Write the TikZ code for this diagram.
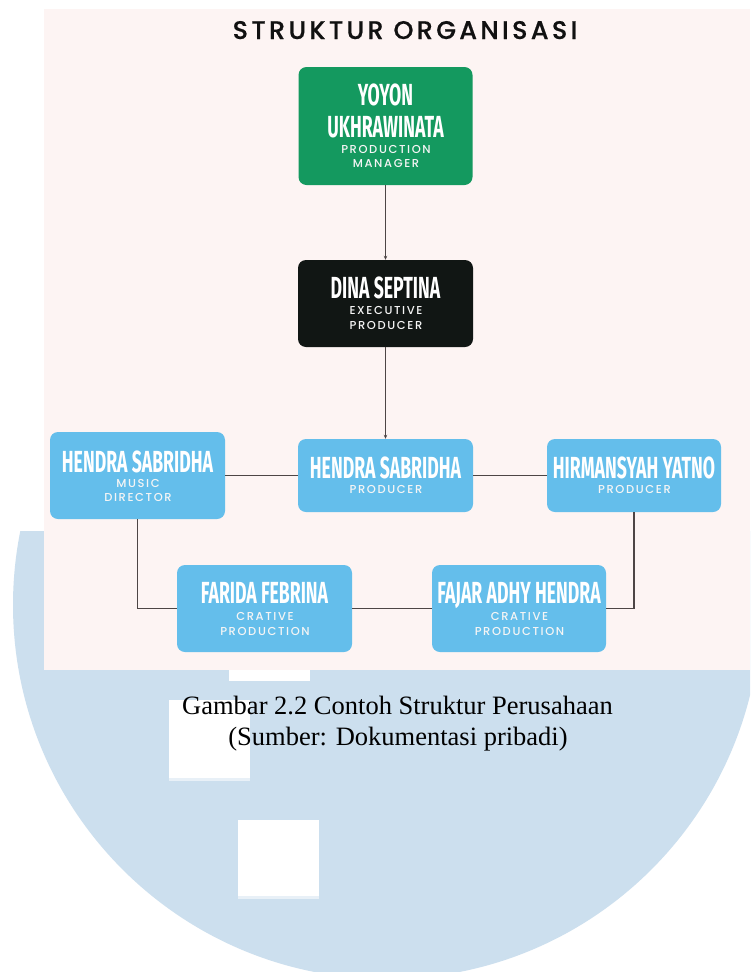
\documentclass[tikz,border=0pt]{standalone}
\usepackage{fontspec}
\setmainfont{Liberation Serif}
\newfontfamily\titlefont[LetterSpace=13,FakeBold=0.5]{Poppins Medium}
\newfontfamily\subfont[LetterSpace=14]{Poppins Medium}
\newfontfamily\namefont[FakeStretch=0.58]{Fira Sans}
\usetikzlibrary{arrows.meta}
\definecolor{wmblue}{HTML}{CCDFEE}
\definecolor{wmedge}{HTML}{E8F0F7}
\definecolor{panel}{HTML}{FDF4F3}
\definecolor{pmgreen}{HTML}{14995F}
\definecolor{epblack}{HTML}{111614}
\definecolor{boxblue}{HTML}{64BEEB}
\definecolor{conncol}{HTML}{4D4545}
\definecolor{titlecol}{HTML}{111111}
\begin{document}
\begin{tikzpicture}[x=1pt,y=-1pt,
  orgbox/.style={rounded corners=8pt, inner sep=0pt, draw=none},
  nametext/.style={anchor=base, inner sep=0pt, text=white, font=\namefont\bfseries\fontsize{30.5}{30.5}\selectfont},
  roletext/.style={anchor=base, inner sep=0pt, text=white!92!gray, font=\subfont\fontsize{11.5}{11.5}\selectfont},
  connline/.style={draw=conncol, line width=1.2pt},
  endtip/.style={-{Stealth[length=4pt,width=3.5pt]}},
  captext/.style={anchor=base, inner sep=0pt, text=black, font=\fontsize{26.5}{26.5}\selectfont},
  titletext/.style={anchor=base, inner sep=0pt, text=titlecol, font=\titlefont\fontsize{25.5}{25.5}\selectfont}]
\useasboundingbox (0,0) rectangle (750,972);
\fill[white] (0,0) rectangle (750,972);
% watermark
\begin{scope}
  \clip (0,531) rectangle (750,972);
  \fill[wmblue] (387,605) circle (374pt);
\end{scope}
% panel
\fill[panel] (44,9) rectangle (750,670);
% white patches
\fill[white] (229,670) rectangle (310,681);
\fill[white] (169,700) rectangle (250,778);
\fill[wmedge] (169,778) rectangle (250,780.5);
\fill[white] (238,820) rectangle (319,896);
\fill[wmedge] (238,896) rectangle (319,898.5);
% title
\node[titletext] (title) at (405,39) {STRUKTUR ORGANISASI};
% boxes
\node[orgbox, fill=pmgreen, minimum width=174pt, minimum height=118pt] (pm) at (385.5,126) {};
\node[orgbox, fill=epblack, minimum width=175pt, minimum height=87pt] (ep) at (385.5,303.5) {};
\node[orgbox, fill=boxblue, minimum width=175pt, minimum height=73pt] (pr) at (385.5,475.5) {};
\node[orgbox, fill=boxblue, minimum width=174pt, minimum height=73pt] (hy) at (634,475.5) {};
\node[orgbox, fill=boxblue, minimum width=175pt, minimum height=87pt] (md) at (137.5,475.5) {};
\node[orgbox, fill=boxblue, minimum width=175pt, minimum height=87pt] (ff) at (264.5,608.5) {};
\node[orgbox, fill=boxblue, minimum width=174pt, minimum height=87pt] (fa) at (519,608.5) {};
% connectors
\draw[connline,endtip] (pm.south) -- (ep.north);
\draw[connline,endtip] (ep.south) -- (pr.north);
\draw[connline] (md.east) -- (pr.west);
\draw[connline] (pr.east) -- (hy.west);
\draw[connline] (md.south) |- (ff.west);
\draw[connline] (ff.east) -- (fa.west);
\draw[connline] (hy.south) |- (fa.east);
% texts
\node[nametext] (pm1) at (385.5,105) {YOYON};
\node[nametext] (pm2) at (385.5,137) {UKHRAWINATA};
\node[roletext] (pm3) at (386,153) {PRODUCTION};
\node[roletext] (pm4) at (386,167) {MANAGER};
\node[nametext] (ep1) at (385.5,298) {DINA SEPTINA};
\node[roletext] (ep2) at (386,314) {EXECUTIVE};
\node[roletext] (ep3) at (386,329) {PRODUCER};
\node[nametext] (pr1) at (385.5,478) {HENDRA SABRIDHA};
\node[roletext] (pr2) at (386,493) {PRODUCER};
\node[nametext] (hy1) at (634,478) {HIRMANSYAH YATNO};
\node[roletext] (hy2) at (634.5,493) {PRODUCER};
\node[nametext] (md1) at (137.5,472) {HENDRA SABRIDHA};
\node[roletext] (md2) at (138,487) {MUSIC};
\node[roletext] (md3) at (138,501) {DIRECTOR};
\node[nametext] (ff1) at (264.5,603) {FARIDA FEBRINA};
\node[roletext] (ff2) at (265,620) {CRATIVE};
\node[roletext] (ff3) at (265,635) {PRODUCTION};
\node[nametext] (fa1) at (519,603) {FAJAR ADHY HENDRA};
\node[roletext] (fa2) at (519.5,620) {CRATIVE};
\node[roletext] (fa3) at (519.5,635) {PRODUCTION};
% caption
\node[captext] (cap1) at (397.5,714) {Gambar 2.2 Contoh Struktur Perusahaan};
\node[captext] (cap2) at (398,745) {(Sumber: Dokumentasi pribadi)};
\end{tikzpicture}
\end{document}
